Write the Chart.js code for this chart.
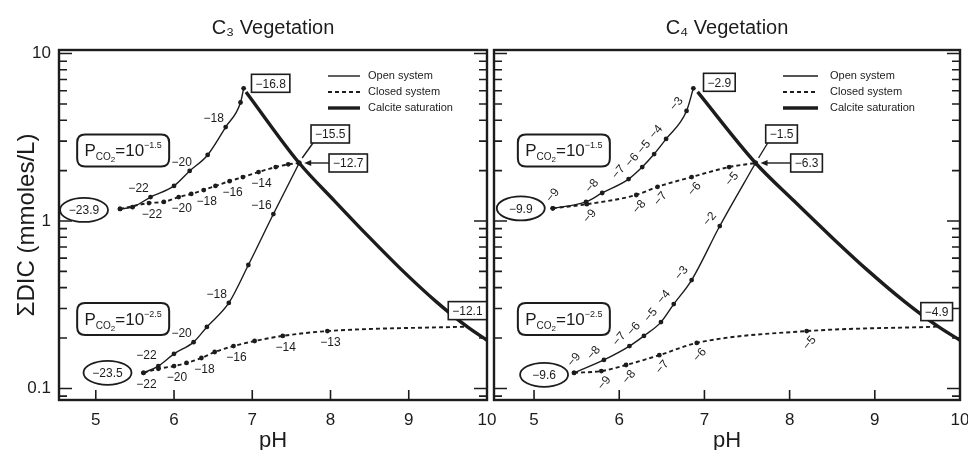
<!DOCTYPE html>
<html><head><meta charset="utf-8">
<script src="https://cdn.jsdelivr.net/npm/chart.js@4.4.1/dist/chart.umd.min.js"></script>
<style>
html,body{margin:0;padding:0;background:#fff;overflow:hidden;}
#wrap{position:relative;width:968px;height:450px;background:#fff;}
canvas{position:absolute;top:0;}
#c3{left:0}
#c4{left:478px}
</style></head><body>
<div id="wrap"><canvas id="c3" width="500" height="450"></canvas><canvas id="c4" width="490" height="450"></canvas></div>
<script>
// ---------- axes ----------
const PH_MIN = 4.53, PH_MAX = 10;
const DIC_MIN = 0.0853, DIC_MAX = 10.5;
const phTicks = [5, 6, 7, 8, 9, 10];
const dicTickLabels = [0.1, 1, 10];

// ---------- calcite saturation (same in both panels) ----------
const calcitePH  = [6.92, 7.60, 8.05, 8.50, 8.90, 9.35, 9.75, 10.0];
const calciteDIC = [5.9, 2.22, 1.32, 0.795, 0.516, 0.330, 0.233, 0.194];

// ---------- C3 vegetation ----------
const c3HighOpenPH   = [5.31, 5.47, 5.70, 6.00, 6.20, 6.43, 6.66, 6.85, 6.89];
const c3HighOpenDIC  = [1.18, 1.21, 1.39, 1.62, 1.99, 2.48, 3.64, 5.10, 6.20];
const c3HighOpenD13C = [null, null, -22, null, -20, null, -18, null, null];

const c3HighClosedPH   = [5.31, 5.68, 5.87, 6.06, 6.22, 6.38, 6.53, 6.71, 6.88, 7.08, 7.30, 7.46, 7.60];
const c3HighClosedDIC  = [1.18, 1.28, 1.30, 1.39, 1.45, 1.53, 1.62, 1.73, 1.83, 1.96, 2.10, 2.18, 2.22];
const c3HighClosedD13C = [null, -22, null, -20, null, -18, null, -16, null, -14, null, null, null];

const c3LowOpenPH   = [5.61, 5.80, 6.00, 6.25, 6.42, 6.70, 6.95, 7.27, 7.60];
const c3LowOpenDIC  = [0.124, 0.136, 0.161, 0.189, 0.233, 0.324, 0.546, 1.10, 2.22];
const c3LowOpenD13C = [null, -22, null, -20, null, -18, null, -16, null];

const c3LowClosedPH   = [5.61, 5.80, 6.00, 6.16, 6.35, 6.52, 6.76, 7.03, 7.39, 7.96, 9.75];
const c3LowClosedDIC  = [0.124, 0.131, 0.136, 0.142, 0.152, 0.165, 0.179, 0.192, 0.206, 0.220, 0.234];
const c3LowClosedD13C = [null, -22, -20, null, -18, null, -16, null, -14, -13, null];

const c3StartValues = [-23.9, -23.5];             // circled start values (high, low PCO2)
const c3BoxValues   = [-16.8, -15.5, -12.7, -12.1]; // peak, open crossing, closed crossing, closed end

// ---------- C4 vegetation ----------
const c4HighOpenPH   = [5.22, 5.61, 5.80, 6.11, 6.27, 6.41, 6.55, 6.79, 6.87];
const c4HighOpenDIC  = [1.19, 1.30, 1.47, 1.78, 2.10, 2.51, 3.09, 4.54, 6.20];
const c4HighOpenD13C = [-9, null, -8, -7, -6, -5, -4, -3, null];

const c4HighClosedPH   = [5.22, 5.62, 6.20, 6.45, 6.85, 7.29, 7.60];
const c4HighClosedDIC  = [1.19, 1.26, 1.43, 1.60, 1.83, 2.10, 2.22];
const c4HighClosedD13C = [null, -9, -8, -7, -6, -5, null];

const c4LowOpenPH   = [5.47, 5.82, 6.12, 6.29, 6.49, 6.64, 6.85, 7.18, 7.60];
const c4LowOpenDIC  = [0.124, 0.148, 0.179, 0.206, 0.249, 0.319, 0.444, 0.933, 2.22];
const c4LowOpenD13C = [-9, -8, -7, -6, -5, -4, -3, -2, null];

const c4LowClosedPH   = [5.47, 5.79, 6.08, 6.47, 6.91, 8.20, 9.75];
const c4LowClosedDIC  = [0.124, 0.127, 0.138, 0.158, 0.187, 0.220, 0.234];
const c4LowClosedD13C = [null, -9, -8, -7, -6, -5, null];

const c4StartValues = [-9.9, -9.6];
const c4BoxValues   = [-2.9, -1.5, -6.3, -4.9];

// ---------- PCO2 labels ----------
const pco2Exponents = [-1.5, -2.5];
const pco2LabelPH   = [5.35, 5.35];
const pco2LabelDIC  = [2.64, 0.26];

const legendLabels = ['Open system', 'Closed system', 'Calcite saturation'];

// ---------- styling ----------
const ink = '#1c1c1c';
const FAMILY = "'Liberation Sans', Arial, Helvetica, sans-serif";
const fmt = v => (v < 0 ? '\u2212' : '') + Math.abs(v);

const styles = {
  open:    { borderColor: ink, borderWidth: 1.4, pointBackgroundColor: ink, pointBorderWidth: 0 },
  closed:  { borderColor: ink, borderWidth: 1.9, borderDash: [4, 3], pointBackgroundColor: ink, pointBorderWidth: 0 },
  calcite: { borderColor: ink, borderWidth: 3.4, pointRadius: 0 }
};
function series(ph, dic, kind, d13c, endDot, nudge) {
  return Object.assign({
    data: ph.map((x, i) => ({ x, y: dic[i] })),
    kind, d13c: d13c || null, endDot: endDot !== false, nudge: nudge || {},
    fill: false, cubicInterpolationMode: 'monotone',
    pointRadius: ctx => (!ctx.dataset.endDot && ctx.dataIndex === ctx.dataset.data.length - 1) ? 0 : 2.4
  }, styles[kind]);
}

function roundRect(ctx, x, y, w, h, r) {
  ctx.beginPath();
  ctx.moveTo(x + r, y); ctx.lineTo(x + w - r, y); ctx.quadraticCurveTo(x + w, y, x + w, y + r);
  ctx.lineTo(x + w, y + h - r); ctx.quadraticCurveTo(x + w, y + h, x + w - r, y + h);
  ctx.lineTo(x + r, y + h); ctx.quadraticCurveTo(x, y + h, x, y + h - r);
  ctx.lineTo(x, y + r); ctx.quadraticCurveTo(x, y, x + r, y);
  ctx.closePath();
}

const decor = {
  id: 'decor',
  afterDatasetsDraw(chart, args, o) {
    const { ctx, chartArea: a, scales: { x: xs, y: ys } } = chart;
    const P = (px, dv) => [xs.getPixelForValue(px), ys.getPixelForValue(dv)];
    ctx.save();
    ctx.strokeStyle = ink; ctx.fillStyle = ink;

    // frame
    ctx.lineWidth = 2.4;
    ctx.strokeRect(a.left, a.top, a.right - a.left, a.bottom - a.top);

    // inward ticks, y (log) both sides
    ctx.lineWidth = 1.6;
    for (let d = Math.floor(Math.log10(DIC_MIN)); d <= Math.ceil(Math.log10(DIC_MAX)); d++) {
      for (let k = 1; k <= 9; k++) {
        const v = k * Math.pow(10, d);
        if (v < DIC_MIN || v > DIC_MAX) continue;
        const y = ys.getPixelForValue(v);
        const len = k === 1 ? 13 : 8;
        ctx.beginPath();
        ctx.moveTo(a.left, y); ctx.lineTo(a.left + len, y);
        ctx.moveTo(a.right, y); ctx.lineTo(a.right - len, y);
        ctx.stroke();
      }
    }
    // inward ticks, x bottom
    phTicks.forEach(t => {
      const x = xs.getPixelForValue(t);
      if (x < a.left + 4 || x > a.right - 4) return;
      ctx.beginPath(); ctx.moveTo(x, a.bottom); ctx.lineTo(x, a.bottom - 10); ctx.stroke();
    });

    // PCO2 rounded boxes
    o.pco2.forEach(q => {
      const [cx, cy] = P(q.ph, q.dic);
      const w = 92, h = 32;
      roundRect(ctx, cx - w / 2, cy - h / 2, w, h, 8);
      ctx.fillStyle = '#fff'; ctx.fill();
      ctx.lineWidth = 2; ctx.stroke();
      const parts = [
        { t: 'P', size: 17, dy: 0 }, { t: 'CO', size: 10, dy: 4 }, { t: '2', size: 8, dy: 6 },
        { t: '=10', size: 17, dy: 0 }, { t: fmt(q.exp), size: 9, dy: -8 }
      ];
      let total = 0;
      parts.forEach(p => { ctx.font = `${p.size}px ${FAMILY}`; p.w = ctx.measureText(p.t).width; total += p.w; });
      let x = cx - total / 2; const base = cy + 6;
      ctx.fillStyle = ink; ctx.textAlign = 'left'; ctx.textBaseline = 'alphabetic';
      parts.forEach(p => { ctx.font = `${p.size}px ${FAMILY}`; ctx.fillText(p.t, x, base + p.dy); x += p.w; });
    });

    // delta-13C labels along curves
    ctx.fillStyle = ink;
    ctx.font = `12px ${FAMILY}`; ctx.textAlign = 'center'; ctx.textBaseline = 'middle';
    chart.data.datasets.forEach(ds => {
      if (!ds.d13c) return;
      const off = o.labelOffset[ds.kind];
      ds.data.forEach((p, i) => {
        const v = ds.d13c[i];
        if (v === null || v === undefined) return;
        const [px, py] = P(p.x, p.y);
        const n = ds.nudge[i] || [0, 0];
        ctx.save();
        ctx.translate(px + off[0] + n[0], py + off[1] + n[1]);
        ctx.rotate(o.labelRotation);
        ctx.fillText(fmt(v), 0, 0);
        ctx.restore();
      });
    });

    // circled start values
    o.ellipses.forEach(e => {
      const [px, py] = P(e.ph, e.dic);
      const cx = px + e.dx, cy = py + e.dy;
      ctx.beginPath(); ctx.ellipse(cx, cy, 24, 12, 0, 0, Math.PI * 2);
      ctx.fillStyle = '#fff'; ctx.fill();
      ctx.lineWidth = 1.8; ctx.stroke();
      ctx.fillStyle = ink; ctx.font = `12px ${FAMILY}`;
      ctx.textAlign = 'center'; ctx.textBaseline = 'middle';
      ctx.fillText(fmt(e.value), cx, cy + 1);
    });

    // boxed values
    o.boxes.forEach(b => {
      const [px, py] = P(b.ph, b.dic);
      const cx = px + b.dx, cy = py + b.dy;
      ctx.font = `12px ${FAMILY}`;
      const w = ctx.measureText(fmt(b.value)).width + 8, h = 18;
      if (b.leader === 'arrow') {
        ctx.lineWidth = 1.4;
        ctx.beginPath(); ctx.moveTo(cx - w / 2, cy); ctx.lineTo(px + 9, py); ctx.stroke();
        ctx.beginPath(); ctx.moveTo(px + 5, py); ctx.lineTo(px + 12, py - 3); ctx.lineTo(px + 12, py + 3); ctx.closePath(); ctx.fill();
      } else if (b.leader === 'line') {
        ctx.lineWidth = 1.4;
        ctx.beginPath(); ctx.moveTo(cx - w / 2 + 2, cy + h / 2); ctx.lineTo(px + 3, py - 5); ctx.stroke();
      }
      ctx.fillStyle = '#fff'; ctx.fillRect(cx - w / 2, cy - h / 2, w, h);
      ctx.lineWidth = 1.6; ctx.strokeRect(cx - w / 2, cy - h / 2, w, h);
      ctx.fillStyle = ink; ctx.textAlign = 'center'; ctx.textBaseline = 'middle';
      ctx.fillText(fmt(b.value), cx, cy + 1);
    });

    // legend
    const L = o.legend;
    const kinds = ['open', 'closed', 'calcite'];
    kinds.forEach((k, i) => {
      const y = a.top + L.dy + i * 16;
      const x0 = a.right - L.lineFrom, x1 = x0 + L.lineLen;
      ctx.save();
      ctx.lineWidth = styles[k].borderWidth;
      ctx.setLineDash(styles[k].borderDash || []);
      ctx.beginPath(); ctx.moveTo(x0, y); ctx.lineTo(x1, y); ctx.stroke();
      ctx.restore();
      ctx.fillStyle = ink; ctx.font = `11px ${FAMILY}`; ctx.textAlign = 'left'; ctx.textBaseline = 'middle';
      ctx.fillText(legendLabels[i], a.right - L.textFrom, y);
    });
    ctx.restore();
  }
};

function makeChart(id, cfg) {
  return new Chart(document.getElementById(id), {
    type: 'line',
    data: { datasets: cfg.datasets },
    plugins: [decor],
    options: {
      responsive: false, animation: false, events: [],
      layout: { autoPadding: false, padding: { left: 0, right: cfg.padRight, top: 0, bottom: 0 } },
      plugins: {
        legend: { display: false }, tooltip: { enabled: false },
        title: { display: true, text: cfg.title, fullSize: false, color: ink,
                 font: { family: FAMILY, size: 20, weight: 'normal', lineHeight: 1.2 },
                 padding: { top: 16, bottom: 10 } },
        decor: cfg.decor
      },
      scales: {
        x: {
          type: 'linear', min: PH_MIN, max: PH_MAX,
          grid: { display: false, drawTicks: false, tickLength: 0 }, border: { display: false },
          ticks: { stepSize: 1, includeBounds: false, maxRotation: 0, autoSkip: false, padding: 10,
                   color: ink, font: { family: FAMILY, size: 17 },
                   callback: v => phTicks.includes(v) ? String(v) : '' },
          title: { display: true, text: 'pH', color: ink, font: { family: FAMILY, size: 22, lineHeight: 0.8 }, padding: 0 },
          afterFit: s => { s.height = 50; s.paddingLeft = 0; s.paddingRight = 0; }
        },
        y: {
          type: 'logarithmic', min: DIC_MIN, max: DIC_MAX,
          grid: { display: false, drawTicks: false, tickLength: 0 }, border: { display: false },
          ticks: { display: cfg.showY, autoSkip: false, padding: 8, color: ink, font: { family: FAMILY, size: 17 },
                   callback: v => { const t = dicTickLabels.find(t => Math.abs(v - t) / t < 1e-6); return t === undefined ? '' : String(t); } },
          title: { display: cfg.showY, text: '\u03A3DIC (mmoles/L)', color: ink,
                   font: { family: FAMILY, size: 24, lineHeight: 1 }, padding: { top: 15, bottom: 0 } },
          afterFit: s => { s.width = cfg.yWidth; s.paddingTop = 0; s.paddingBottom = 0; }
        }
      }
    }
  });
}

makeChart('c3', {
  title: 'C\u2083 Vegetation', padRight: 13, yWidth: 59, showY: true,
  datasets: [
    series(c3HighOpenPH, c3HighOpenDIC, 'open', c3HighOpenD13C, true, { 4: [4, 0] }),
    series(c3HighClosedPH, c3HighClosedDIC, 'closed', c3HighClosedD13C),
    series(c3LowOpenPH, c3LowOpenDIC, 'open', c3LowOpenD13C, true, { 1: [0, -2] }),
    series(c3LowClosedPH, c3LowClosedDIC, 'closed', c3LowClosedD13C, false, { 1: [-15, 4] }),
    series(calcitePH, calciteDIC, 'calcite')
  ],
  decor: {
    labelRotation: 0,
    labelOffset: { open: [-12, -8], closed: [3, 12] },
    ellipses: [
      { value: c3StartValues[0], ph: c3HighOpenPH[0], dic: c3HighOpenDIC[0], dx: -36, dy: 1 },
      { value: c3StartValues[1], ph: c3LowOpenPH[0], dic: c3LowOpenDIC[0], dx: -36, dy: 0 }
    ],
    boxes: [
      { value: c3BoxValues[0], ph: c3HighOpenPH[c3HighOpenPH.length - 1], dic: c3HighOpenDIC[c3HighOpenDIC.length - 1], dx: 27, dy: -5 },
      { value: c3BoxValues[1], ph: c3LowOpenPH[c3LowOpenPH.length - 1], dic: c3LowOpenDIC[c3LowOpenDIC.length - 1], dx: 31, dy: -29, leader: 'line' },
      { value: c3BoxValues[2], ph: c3HighClosedPH[c3HighClosedPH.length - 1], dic: c3HighClosedDIC[c3HighClosedDIC.length - 1], dx: 49, dy: 0, leader: 'arrow' },
      { value: c3BoxValues[3], ph: c3LowClosedPH[c3LowClosedPH.length - 1], dic: c3LowClosedDIC[c3LowClosedDIC.length - 1], dx: 0, dy: -16 }
    ],
    pco2: pco2Exponents.map((exp, i) => ({ exp, ph: pco2LabelPH[i], dic: pco2LabelDIC[i] })),
    legend: { dy: 26, lineFrom: 159, lineLen: 32, textFrom: 119 }
  }
});

makeChart('c4', {
  title: 'C\u2084 Vegetation', padRight: 8, yWidth: 16, showY: false,
  datasets: [
    series(c4HighOpenPH, c4HighOpenDIC, 'open', c4HighOpenD13C, true, { 0: [10, -6] }),
    series(c4HighClosedPH, c4HighClosedDIC, 'closed', c4HighClosedD13C),
    series(c4LowOpenPH, c4LowOpenDIC, 'open', c4LowOpenD13C, true, { 0: [10, -6] }),
    series(c4LowClosedPH, c4LowClosedDIC, 'closed', c4LowClosedD13C, false),
    series(calcitePH, calciteDIC, 'calcite')
  ],
  decor: {
    labelRotation: -50 * Math.PI / 180,
    labelOffset: { open: [-10, -7], closed: [3, 12] },
    ellipses: [
      { value: c4StartValues[0], ph: c4HighOpenPH[0], dic: c4HighOpenDIC[0], dx: -32, dy: 0 },
      { value: c4StartValues[1], ph: c4LowOpenPH[0], dic: c4LowOpenDIC[0], dx: -30, dy: 2 }
    ],
    boxes: [
      { value: c4BoxValues[0], ph: c4HighOpenPH[c4HighOpenPH.length - 1], dic: c4HighOpenDIC[c4HighOpenDIC.length - 1], dx: 26, dy: -6 },
      { value: c4BoxValues[1], ph: c4LowOpenPH[c4LowOpenPH.length - 1], dic: c4LowOpenDIC[c4LowOpenDIC.length - 1], dx: 26, dy: -29, leader: 'line' },
      { value: c4BoxValues[2], ph: c4HighClosedPH[c4HighClosedPH.length - 1], dic: c4HighClosedDIC[c4HighClosedDIC.length - 1], dx: 51, dy: 0, leader: 'arrow' },
      { value: c4BoxValues[3], ph: c4LowClosedPH[c4LowClosedPH.length - 1], dic: c4LowClosedDIC[c4LowClosedDIC.length - 1], dx: -2, dy: -15 }
    ],
    pco2: pco2Exponents.map((exp, i) => ({ exp, ph: pco2LabelPH[i], dic: pco2LabelDIC[i] })),
    legend: { dy: 26, lineFrom: 177, lineLen: 35, textFrom: 130 }
  }
});
</script></body></html>
